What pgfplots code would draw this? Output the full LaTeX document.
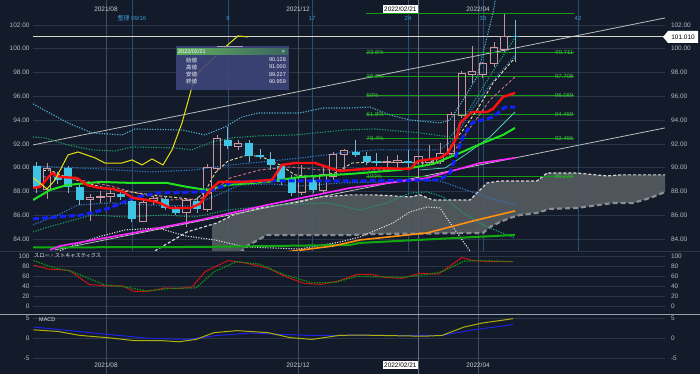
\documentclass[border=0pt]{standalone}
\usepackage{fontspec}
\setmainfont{Liberation Sans}
\newfontfamily\jp{Noto Sans CJK JP}
\usepackage{pgfplots}
\usepackage{pgfplotstable}
\pgfplotsset{compat=1.18}

\definecolor{bg}{RGB}{19,27,42}
\definecolor{gridc}{RGB}{42,54,70}
\definecolor{vgrid}{RGB}{64,76,92}
\definecolor{vgridl}{RGB}{96,110,128}
\definecolor{cyanv}{RGB}{34,78,120}
\definecolor{cyantext}{RGB}{58,154,208}
\definecolor{ticktext}{RGB}{178,186,196}
\definecolor{bullc}{RGB}{204,150,160}
\definecolor{bullw}{RGB}{184,150,158}
\definecolor{bearc}{RGB}{64,196,230}
\definecolor{bearw}{RGB}{127,182,198}
\definecolor{redl}{RGB}{255,16,16}
\definecolor{greenl}{RGB}{32,226,32}
\definecolor{bluel}{RGB}{16,32,255}
\definecolor{magl}{RGB}{255,40,255}
\definecolor{orangel}{RGB}{255,144,16}
\definecolor{dgreenl}{RGB}{16,170,16}
\definecolor{yell}{RGB}{232,224,16}
\definecolor{cloudc}{RGB}{84,90,96}
\definecolor{spanA}{RGB}{214,214,214}
\definecolor{spanB}{RGB}{138,142,148}
\definecolor{fibc}{RGB}{24,156,24}
\definecolor{fibt}{RGB}{64,186,64}
\definecolor{trendc}{RGB}{190,190,190}
\definecolor{hlinec}{RGB}{214,214,200}
\definecolor{u3c}{RGB}{80,176,208}
\definecolor{u2c}{RGB}{30,160,110}
\definecolor{p1c}{RGB}{48,120,200}
\definecolor{m1c}{RGB}{232,224,160}
\definecolor{m2c}{RGB}{208,112,128}
\definecolor{l3c}{RGB}{215,215,215}
\definecolor{tealc}{RGB}{80,200,190}
\definecolor{tipbg}{RGB}{62,70,124}
\definecolor{datec}{RGB}{200,204,208}
\definecolor{stochr}{RGB}{200,20,20}
\definecolor{stochg}{RGB}{16,150,16}
\definecolor{macdy}{RGB}{176,176,16}
\definecolor{macdb}{RGB}{32,32,230}
\definecolor{sepc}{RGB}{150,160,172}

% weekly candles: x = horizontal position, o h l c = prices
\pgfplotstableread{
x o h l c
47 88.2 90.4 87.4 89.9
90 87.3 87.8 85.5 87.5
100.5 87.5 88.0 87.0 87.6
110.5 87.6 88.1 87.1 87.8
143 85.5 87.4 85.4 87.1
153.5 87.2 87.6 86.9 87.4
186.5 86.2 87.4 85.0 87.2
207.5 86.5 90.3 86.3 90.0
217 89.9 92.75 89.7 92.45
238.3 91.8 92.3 91.5 92.05
301.7 87.9 90.2 87.7 89.2
323.3 88.1 90.1 87.9 89.4
333.3 89.24 91.3 89.0 91.07
344.3 91.07 91.6 89.9 91.43
387 90.4 91.0 90.0 90.5
397.5 90.4 91.1 90.0 90.6
418.5 90.128 91.0 89.227 90.959
429.5 90.4 91.9 90.2 90.7
440 90.5 92.05 90.3 91.2
451 91.2 94.7 91.0 94.5
461.7 94.4 98.1 94.2 97.9
472 97.8 100.2 97.1 98.07
482.7 97.88 98.9 97.5 98.77
494 98.77 100.6 98.5 100.12
504.3 99.9 102.95 99.7 101.07
}\bull
\pgfplotstableread{
x o h l c
36.7 90.1 90.5 87.9 88.4
57.5 89.2 89.6 88.6 89.0
68.3 90.0 90.1 87.9 88.4
79.5 88.4 88.6 86.9 87.3
120.5 87.8 88.0 87.3 87.5
131.7 87.2 87.6 85.4 85.7
165 87.4 87.6 86.4 86.6
175.5 86.6 86.8 86.0 86.2
197 87.2 87.5 86.2 86.5
227.5 92.3 93.45 91.6 91.8
249.3 92.1 92.3 90.5 91.0
260 91.07 91.6 90.7 90.87
270.5 90.7 91.35 89.8 90.2
281 90.1 90.3 88.5 88.8
291.7 89.1 89.4 87.6 87.85
313 88.96 89.3 87.9 88.1
355.7 91.35 92.3 90.9 91.07
366.7 91.0 91.3 90.2 90.45
376.5 90.6 91.2 90.1 90.4
408 90.6 91.5 90.0 90.4
515 101.07 102.4 98.9 101.01
}\bear

\pgfplotsset{
  panel/.style={scale only axis, width=632bp, xmin=33, xmax=665,
    axis line style={draw=none}, major tick length=0pt, tick style={draw=none},
    xtick=\empty, ymajorgrids=true, major grid style={gridc, line width=0.7bp},
    /pgf/number format/assume math mode=true,
    yticklabel style={font=\fontsize{6.5}{7}\selectfont, text=ticktext},
    unbounded coords=jump, clip=true},
}

\begin{document}
\begin{tikzpicture}
\path[use as bounding box, fill=bg] (0,0) rectangle (700bp,374bp);

% ================= MAIN PANEL =================
\begin{axis}[panel, at={(33bp,123bp)}, anchor=south west, height=251bp,
  ymin=82.99, ymax=104.10, ytick={84,86,...,102},
  yticklabel={\pgfmathprintnumber[fixed,fixed zerofill,precision=2]{\tick}}]
% vertical lines
\addplot[vgrid, line width=0.7bp] coordinates {(106,80) (106,106) (106,nan) (298,80) (298,106) (298,nan) (478,80) (478,106)};
\addplot[vgridl, line width=0.8bp] coordinates {(418,80) (418,106)};
\addplot[cyanv, line width=0.8bp] coordinates {(132,80) (132,106) (132,nan) (228,80) (228,106) (228,nan) (312,80) (312,106) (312,nan) (408,80) (408,106) (408,nan) (483,80) (483,106) (483,nan) (578,80) (578,106)};
% ichimoku cloud
\addplot[fill=cloudc, fill opacity=0.92, draw=none] coordinates {(212,85.22) (217,85.35) (233,86.02) (260,86.61) (300,87.12) (320,87.54) (350,87.71) (375,87.71) (410,87.54) (420,87.71) (433,87.28) (470,87.28) (480,88.12) (487,88.71) (500,88.88) (537,88.88) (547,89.55) (577,89.55) (607,89.30) (620,89.39) (665,89.39) (665,87.95) (650,87.45) (633,87.03) (613,87.03) (577,86.61) (550,86.53) (537,86.19) (520,86.02) (510,85.77) (500,85.43) (490,85.01) (483,84.51) (375,84.42) (350,84.34) (267,84.34) (247,83.41) (240,82.83) (235,82.5) (212,82.5)} -- cycle;
\addplot[spanA, line width=1.2bp, dash pattern=on 3bp off 2bp] coordinates {(155,83.0) (187,84.59) (217,85.35) (233,86.02) (260,86.61) (300,87.12) (320,87.54) (350,87.71) (375,87.71) (410,87.54) (420,87.71) (433,87.28) (470,87.28) (480,88.12) (487,88.71) (500,88.88) (537,88.88) (547,89.55) (577,89.55) (607,89.30) (620,89.39) (665,89.39)};
\addplot[spanB, line width=2.2bp, dash pattern=on 5bp off 3bp] coordinates {(240,82.83) (247,83.41) (267,84.34) (350,84.34) (375,84.42) (483,84.51) (490,85.01) (500,85.43) (510,85.77) (520,86.02) (537,86.19) (550,86.53) (577,86.61) (613,87.03) (633,87.03) (650,87.45) (665,87.95)};
% trend lines
\addplot[trendc, line width=0.8bp] coordinates {(33,91.91) (665,102.59)};
\addplot[trendc, line width=0.8bp] coordinates {(55,83.08) (665,93.34)};
% last price line
\addplot[hlinec, line width=1bp] coordinates {(33,101.01) (665,101.01)};
% fibonacci
\addplot[fibc, line width=0.8bp] coordinates {(366,102.951) (574,102.951) (574,nan) (366,99.711) (574,99.711) (574,nan) (366,97.708) (574,97.708) (574,nan) (366,96.089) (574,96.089) (574,nan) (366,94.469) (574,94.469) (574,nan) (366,92.466) (574,92.466) (574,nan) (366,89.227) (574,89.227)};
% band lines
\addplot[u3c, line width=1.1bp, dash pattern=on 1.2bp off 1.4bp] coordinates {(33,95.36) (68,93.76) (92,92.92) (122,92.75) (135,93.25) (182,93.17) (205,92.75) (225,93.42) (242,94.26) (258,94.60) (300,94.60) (323,95.02) (350,95.02) (370,95.10) (390,94.43) (410,94.01) (440,93.76) (450,94.01) (463,95.69) (477,97.63) (493,103.01) (496,104.5)};
\addplot[u2c, line width=1.1bp, dash pattern=on 1.2bp off 1.4bp] coordinates {(33,92.58) (45,92.50) (68,91.91) (92,91.49) (115,91.40) (132,91.74) (175,91.66) (192,91.49) (212,92.16) (232,92.50) (258,92.67) (295,92.75) (345,93.17) (375,93.25) (420,92.92) (450,92.58) (460,93.59) (475,95.69) (495,98.38) (515,100.91)};
\addplot[p1c, line width=1.1bp, dash pattern=on 1.2bp off 1.4bp] coordinates {(33,90.14) (100,89.89) (150,89.64) (195,89.81) (230,90.23) (262,90.48) (300,90.81) (350,91.32) (375,91.49) (440,91.49) (455,92.50) (470,94.68) (490,96.95) (515,99.48)};
\addplot[p1c, line width=1.1bp, dash pattern=on 1.2bp off 1.4bp] coordinates {(33,85.18) (60,86.10) (78,86.86) (110,87.03) (150,86.86) (190,86.78) (215,87.62) (240,88.54) (270,88.63) (300,88.46) (340,88.71) (380,88.80) (420,88.97) (440,88.88) (460,88.29) (490,87.45) (515,86.86)};
\addplot[u2c, line width=1.1bp, dash pattern=on 1.2bp off 1.4bp] coordinates {(33,84.59) (45,84.93) (92,86.02) (125,85.85) (165,86.02) (195,85.85) (228,86.44) (278,86.86) (328,87.03) (360,86.44) (387,87.03) (410,87.87) (427,87.96) (443,87.54) (463,86.19) (487,85.01) (515,84.09)};
\addplot[l3c, line width=1.1bp, dash pattern=on 1.2bp off 1.4bp] coordinates {(60,83.0) (75,83.50) (98,84.17) (125,84.76) (158,84.93) (185,84.26) (215,83.92) (245,83.33) (300,83.16) (340,83.75) (360,84.17) (393,85.35) (410,86.28) (427,86.69) (440,86.61) (450,85.35) (460,84.17) (470,83.0) (473,82.5)};
\addplot[tealc, line width=0.8bp] coordinates {(420,89.81) (445,89.97) (465,91.07) (490,92.58) (515,94.68)};
\addplot[m1c, line width=0.9bp, dash pattern=on 3bp off 2bp] coordinates {(33,89.64) (50,89.81) (60,89.39) (83,88.80) (105,88.29) (130,87.96) (160,87.62) (180,87.45) (195,87.28) (205,87.96) (215,89.55) (228,90.56) (248,91.07) (262,90.90) (280,90.23) (295,89.39) (315,89.22) (335,89.55) (352,90.39) (375,90.48) (427,90.39) (443,90.90) (453,92.08) (463,93.17) (477,94.85) (493,97.12) (507,98.47) (515,99.23)};
\addplot[m2c, line width=0.9bp, dash pattern=on 3bp off 2bp] coordinates {(33,89.13) (55,89.30) (80,88.96) (110,88.46) (140,87.79) (170,87.28) (200,87.37) (215,88.12) (230,89.13) (260,89.81) (290,90.06) (320,89.81) (350,89.81) (380,89.81) (410,89.97) (440,90.39) (455,91.49) (470,93.34) (490,95.69) (515,97.63)};
% candles
\addplot[draw=none, mark=none, error bars/y dir=plus, error bars/y explicit, error bars/error mark=none, error bars/error bar style={draw=bullw, line width=0.8bp}] table[x=x, y=l, y error plus expr=\thisrow{o}-\thisrow{l}] {\bull};
\addplot[draw=none, mark=none, error bars/y dir=plus, error bars/y explicit, error bars/error mark=none, error bars/error bar style={draw=bullw, line width=0.8bp}] table[x=x, y=c, y error plus expr=\thisrow{h}-\thisrow{c}] {\bull};
\addplot[draw=none, mark=none, error bars/y dir=plus, error bars/y explicit, error bars/error mark=none, error bars/error bar style={draw=bullc, line width=0.9bp}] table[x expr=\thisrow{x}-3.6, y=o, y error plus expr=\thisrow{c}-\thisrow{o}] {\bull};
\addplot[draw=none, mark=none, error bars/y dir=plus, error bars/y explicit, error bars/error mark=none, error bars/error bar style={draw=bullc, line width=0.9bp}] table[x expr=\thisrow{x}+3.6, y=o, y error plus expr=\thisrow{c}-\thisrow{o}] {\bull};
\addplot[draw=none, mark=none, error bars/x dir=both, error bars/x fixed=4.05, error bars/error mark=none, error bars/error bar style={draw=bullc, line width=0.9bp}] table[x=x, y=o] {\bull};
\addplot[draw=none, mark=none, error bars/x dir=both, error bars/x fixed=4.05, error bars/error mark=none, error bars/error bar style={draw=bullc, line width=0.9bp}] table[x=x, y=c] {\bull};
\addplot[draw=none, mark=none, error bars/y dir=plus, error bars/y explicit, error bars/error mark=none, error bars/error bar style={draw=bearw, line width=0.8bp}] table[x=x, y=l, y error plus expr=\thisrow{h}-\thisrow{l}] {\bear};
\addplot[draw=none, mark=none, error bars/y dir=plus, error bars/y explicit, error bars/error mark=none, error bars/error bar style={draw=bearc, line width=8bp}] table[x=x, y=c, y error plus expr=\thisrow{o}-\thisrow{c}] {\bear};
% moving averages
\addplot[dgreenl, line width=2bp] coordinates {(33,83.29) (200,83.33) (350,83.50) (360,83.67) (515,84.34)};
\addplot[orangel, line width=1.6bp] coordinates {(285,82.9) (333,83.41) (360,83.92) (427,84.51) (477,85.60) (515,86.36)};
\addplot[magl, line width=1.6bp] coordinates {(50,83.08) (60,83.41) (133,84.51) (200,85.60) (267,86.86) (350,88.29) (427,89.13) (480,90.39) (515,90.82)};
\addplot[greenl, line width=2bp] coordinates {(33,87.28) (50,88.12) (67,88.54) (100,88.80) (133,88.71) (167,88.71) (187,88.38) (207,88.12) (227,88.54) (267,88.80) (300,89.22) (333,89.39) (350,89.47) (400,89.81) (433,90.31) (460,91.24) (483,92.08) (503,92.75) (515,93.34)};
\addplot[bluel, line width=3bp, dash pattern=on 6bp off 3bp] coordinates {(33,85.69) (83,86.02) (110,86.61) (133,87.45) (157,87.87) (200,87.96) (213,88.12) (233,88.80) (267,88.88) (350,88.88) (440,88.97) (450,89.55) (457,91.24) (463,92.58) (472,93.76) (493,94.26) (505,95.10) (515,95.10)};
\addplot[redl, line width=2.4bp] coordinates {(33,88.29) (40,88.38) (52,89.55) (60,89.22) (77,89.13) (87,88.54) (100,88.29) (113,88.21) (123,87.96) (133,87.45) (147,87.28) (160,87.03) (170,86.61) (190,86.61) (200,86.95) (210,88.12) (219,88.80) (243,88.80) (272,88.97) (282,90.23) (295,90.39) (315,90.39) (330,89.97) (340,89.72) (352,89.81) (375,89.97) (410,89.89) (418,90.56) (440,90.82) (448,91.24) (457,92.58) (460,93.76) (472,94.68) (487,94.68) (493,94.94) (503,95.95) (515,96.28)};
\addplot[yell, line width=1bp] coordinates {(33,89.13) (36,88.96) (47,88.21) (55,88.96) (68,91.07) (78,91.32) (95,90.82) (105,90.39) (122,90.39) (132,90.65) (142,90.23) (152,90.73) (163,90.23) (172,91.49) (182,93.76) (192,96.79) (198,97.96) (222,99.90) (238,101.08) (248,100.99)};
% fib labels
\begin{scope}[every node/.style={text=fibt, font=\fontsize{6}{7}\selectfont, inner sep=0.5bp}]
\node[anchor=west] at (axis cs:366,99.711) {23.6\%};
\node[anchor=west] at (axis cs:366,97.708) {38.2\%};
\node[anchor=west] at (axis cs:366,96.089) {50\%};
\node[anchor=west] at (axis cs:366,94.469) {61.8\%};
\node[anchor=west] at (axis cs:366,92.466) {76.4\%};
\node[anchor=west] at (axis cs:366,89.227) {100\%};
\node[anchor=east] at (axis cs:574,99.711) {99.711};
\node[anchor=east] at (axis cs:574,97.708) {97.708};
\node[anchor=east] at (axis cs:574,96.089) {96.089};
\node[anchor=east] at (axis cs:574,94.469) {94.469};
\node[anchor=east] at (axis cs:574,92.466) {92.466};
\node[anchor=east] at (axis cs:574,89.227) {89.227};
\end{scope}
% date labels
\begin{scope}[every node/.style={text=datec, font=\fontsize{6.5}{7}\selectfont, inner sep=0.5bp}]
\node at (axis cs:106,103.35) {2021/08};
\node at (axis cs:298,103.35) {2021/12};
\node at (axis cs:478,103.35) {2022/04};
\end{scope}
\begin{scope}[every node/.style={text=cyantext, font=\fontsize{6}{7}\selectfont, inner sep=0.5bp}]
\node at (axis cs:132,102.59) {{\jp 整理} 09/16};
\node at (axis cs:228,102.59) {9};
\node at (axis cs:312,102.59) {17};
\node at (axis cs:408,102.59) {24};
\node at (axis cs:483,102.59) {33};
\node at (axis cs:578,102.59) {42};
\end{scope}
\end{axis}
% right labels main
\begin{axis}[panel, at={(33bp,123bp)}, anchor=south west, height=251bp,
  ymin=82.99, ymax=104.10, ytick={84,86,...,102}, ymajorgrids=false,
  yticklabel pos=right, yticklabel style={xshift=2.5bp},
  yticklabel={\pgfmathprintnumber[fixed,fixed zerofill,precision=2]{\tick}}]
\end{axis}

% ================= STOCHASTICS =================
\begin{axis}[panel, at={(33bp,60bp)}, anchor=south west, height=63bp,
  ymin=-14.4, ymax=109.9, ytick={0,20,...,100}]
\addplot[vgrid, line width=0.7bp] coordinates {(106,-20) (106,120) (106,nan) (298,-20) (298,120) (298,nan) (478,-20) (478,120)};
\addplot[vgridl, line width=0.8bp] coordinates {(418,-20) (418,120)};
\addplot[stochr, line width=1bp] coordinates {(33.5,82) (49,74) (69,72) (89,44) (107,41) (123,41) (134,30) (147,30) (165,37) (179,36) (192,39) (205,69) (228,91) (246,86) (268,76) (286,59) (304,46) (321,44) (339,51) (357,64) (371,64) (384,58) (402,56) (420,66) (438,64) (462,97) (473,91) (491,89) (513,89)};
\addplot[stochg, line width=1.2bp, dash pattern=on 1.5bp off 1.2bp] coordinates {(33.5,91) (53.6,77) (71,70) (105,43) (125,39) (147,31) (170,36) (196,37) (214,69) (237,89) (259,84) (286,62) (312,47) (335,48) (357,60) (380,59) (402,58) (429,64) (442,69) (464,90) (482,91) (513,89)};
\end{axis}
\begin{axis}[panel, at={(33bp,60bp)}, anchor=south west, height=63bp,
  ymin=-14.4, ymax=109.9, ytick={0,20,...,100}, ymajorgrids=false,
  yticklabel pos=right, yticklabel style={xshift=2.5bp}]
\end{axis}

% ================= MACD =================
\begin{axis}[panel, at={(33bp,0bp)}, anchor=south west, height=59bp,
  ymin=-8.89, ymax=5.93, ytick={-5,0,5}]
\addplot[vgrid, line width=0.7bp] coordinates {(106,-10) (106,8) (106,nan) (298,-10) (298,8) (298,nan) (478,-10) (478,8)};
\addplot[vgridl, line width=0.8bp] coordinates {(418,-10) (418,8)};
\addplot[macdb, line width=1bp] coordinates {(33.5,2.9) (107,1.1) (147,0.1) (188,-0.2) (214,0.7) (250,1.4) (277,1.1) (312,0.8) (357,0.8) (442,0.8) (473,2.2) (513,3.5)};
\addplot[macdy, line width=1bp] coordinates {(33.5,2.2) (58,1.8) (80,0.8) (107,0.25) (134,-0.5) (161,-0.5) (179,-0.8) (196,-0.2) (214,1.5) (237,2.0) (268,1.5) (290,0.25) (312,-0.2) (339,0.8) (357,0.9) (379,0.8) (424,0.6) (442,0.8) (464,2.9) (482,3.9) (513,5)};
\begin{scope}[every node/.style={text=datec, font=\fontsize{6.5}{7}\selectfont, inner sep=0.5bp}]
\node at (axis cs:106,-6.66) {2021/08};
\node at (axis cs:298,-6.66) {2021/12};
\node at (axis cs:478,-6.66) {2022/04};
\end{scope}
\end{axis}
\begin{axis}[panel, at={(33bp,0bp)}, anchor=south west, height=59bp,
  ymin=-8.89, ymax=5.93, ytick={-5,0,5}, ymajorgrids=false,
  yticklabel pos=right, yticklabel style={xshift=2.5bp}]
\end{axis}

% separators
\draw[gridc, line width=0.8bp] (0,123bp) -- (700bp,123bp);
\draw[sepc, line width=0.8bp] (0,59.5bp) -- (700bp,59.5bp);

% panel titles
\node[anchor=west, text=white!85!gray, font=\jp\fontsize{5.2}{6}\selectfont, inner sep=0pt] at (34bp,118bp) {スロー・ストキャスティクス};
\node[anchor=west, text=white!85!gray, font=\fontsize{5.5}{6}\selectfont, inner sep=0pt] at (39bp,54bp) {MACD};

% date boxes
\node[fill=white, text=black, font=\fontsize{6.5}{7}\selectfont, inner sep=1.2bp, anchor=east] at (418bp,365bp) {2022/02/21};
\node[fill=white, text=black, font=\fontsize{6.5}{7}\selectfont, inner sep=1.2bp, anchor=east] at (418bp,9bp) {2022/02/21};

% last price box
\fill[white] (663bp,337bp) -- (668bp,343bp) -- (698bp,343bp) -- (698bp,331bp) -- (668bp,331bp) -- cycle;
\node[text=black, font=\fontsize{6.5}{7}\selectfont, inner sep=0pt] at (683bp,337bp) {101.010};

% tooltip
\fill[tipbg, opacity=0.9] (176bp,284bp) rectangle (289bp,328bp);
\fill[gray!70] (217bp,327bp) rectangle (243bp,328bp);
\shade[left color={rgb,255:red,96;green,176;blue,96}, right color={rgb,255:red,60;green,100;blue,96}] (177bp,319bp) rectangle (288bp,325.5bp);
\node[anchor=west, text=white, font=\fontsize{5.5}{6}\selectfont, inner sep=0pt] at (178bp,322.2bp) {2022/02/21};
\node[text=white, font=\fontsize{5.5}{6}\selectfont, inner sep=0pt] at (283.5bp,322.2bp) {×};
\begin{scope}[every node/.style={text=white!90!gray, font=\fontsize{5.5}{6}\selectfont, inner sep=0pt}]
\node[anchor=west] at (186bp,314bp) {\jp 始値};
\node[anchor=west] at (186bp,307bp) {\jp 高値};
\node[anchor=west] at (186bp,299.7bp) {\jp 安値};
\node[anchor=west] at (186bp,292.3bp) {\jp 終値};
\node[anchor=east] at (286bp,314bp) {90.128};
\node[anchor=east] at (286bp,307bp) {91.000};
\node[anchor=east] at (286bp,299.7bp) {89.227};
\node[anchor=east] at (286bp,292.3bp) {90.959};
\end{scope}
\end{tikzpicture}
\end{document}
